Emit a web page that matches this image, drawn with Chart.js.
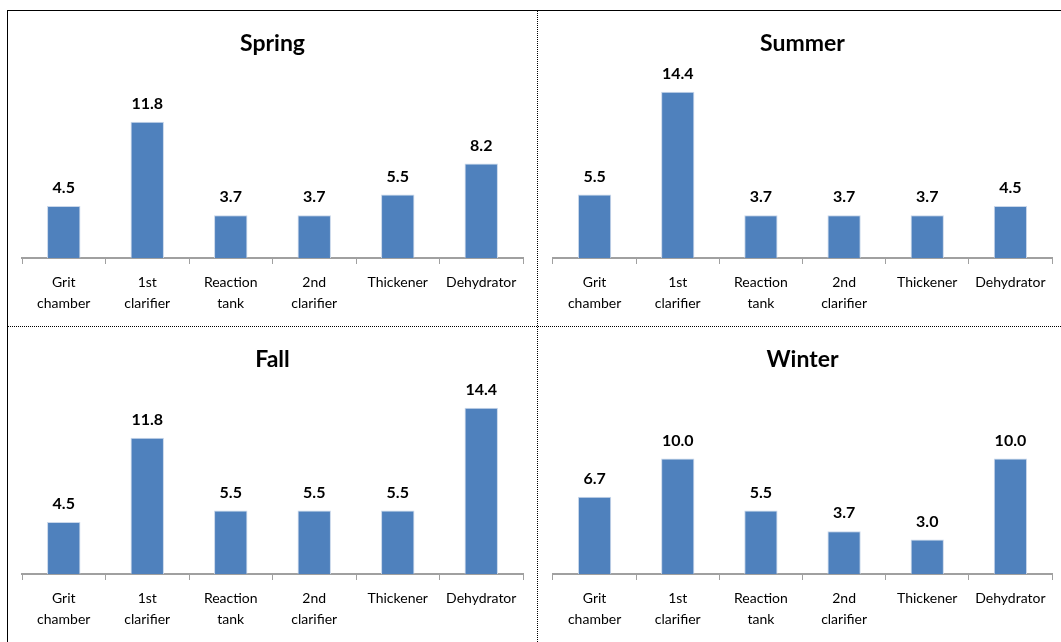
<!DOCTYPE html>
<html>
<head>
<meta charset="utf-8">
<script src="https://cdn.jsdelivr.net/npm/chart.js@4"></script>
<style>
  html, body { margin: 0; padding: 0; background: #fff; }
  body { width: 1061px; height: 642px; position: relative; overflow: hidden; }
  .frame { position: absolute; left: 7px; top: 10px; width: 1060px; height: 640px;
           border-left: 1px solid #000; border-top: 1px solid #000; }
  .vdot { position: absolute; left: 537px; top: 11px; height: 631px; border-left: 1px dotted #000; }
  .hdot { position: absolute; left: 8px; top: 326px; width: 1053px; border-top: 1px dotted #000; }
  .panel { position: absolute; }
</style>
</head>
<body>
<div class="frame"></div>
<div class="vdot"></div>
<div class="hdot"></div>
<div class="panel" style="left:8px;top:11px;width:529px;height:315px"><canvas id="spring"></canvas></div>
<div class="panel" style="left:538px;top:11px;width:523px;height:315px"><canvas id="summer"></canvas></div>
<div class="panel" style="left:8px;top:327px;width:529px;height:315px"><canvas id="fall"></canvas></div>
<div class="panel" style="left:538px;top:327px;width:523px;height:315px"><canvas id="winter"></canvas></div>
<script>
// Categories (process units)
const categories = [
  ['Grit', 'chamber'],
  ['1st', 'clarifier'],
  ['Reaction', 'tank'],
  ['2nd', 'clarifier'],
  'Thickener',
  'Dehydrator'
];

// Values per season
const springValues = [4.5, 11.8, 3.7, 3.7, 5.5, 8.2];
const summerValues = [5.5, 14.4, 3.7, 3.7, 3.7, 4.5];
const fallValues = [4.5, 11.8, 5.5, 5.5, 5.5, 14.4];
const winterValues = [6.7, 10.0, 5.5, 3.7, 3.0, 10.0];

const FONT = "'Liberation Sans Narrow', 'Lato', sans-serif";

// draws the value above each bar
const valueLabels = {
  id: 'valueLabels',
  afterDatasetsDraw(chart) {
    const ctx = chart.ctx;
    const meta = chart.getDatasetMeta(0);
    ctx.save();
    ctx.font = 'bold 16px ' + FONT;
    ctx.fillStyle = '#000';
    ctx.textAlign = 'center';
    ctx.textBaseline = 'bottom';
    meta.data.forEach((bar, i) => {
      const v = chart.data.datasets[0].data[i];
      ctx.fillText(v.toFixed(1), bar.x, bar.y - 10);
    });
    ctx.restore();
  }
};

function makeChart(id, title, values, padLeft, padRight) {
  new Chart(document.getElementById(id), {
    type: 'bar',
    data: {
      labels: categories,
      datasets: [{
        data: values,
        backgroundColor: '#4F81BD',
        borderColor: '#c9d7ea',
        borderWidth: 1,
        borderSkipped: 'bottom',
        categoryPercentage: 1.0,
        barPercentage: 0.4
      }]
    },
    options: {
      responsive: true,
      maintainAspectRatio: false,
      animation: false,
      layout: { padding: { left: padLeft, right: padRight, top: 0, bottom: 0 } },
      plugins: {
        legend: { display: false },
        tooltip: { enabled: false },
        title: {
          display: true,
          text: title,
          color: '#000',
          font: { family: FONT, size: 23, weight: 'bold', lineHeight: 1.2 },
          padding: { top: 19, bottom: 10 }
        }
      },
      scales: {
        x: {
          afterFit: s => { s.height = 68; },
          border: { display: true, color: '#a0a0a0', width: 2 },
          grid: { drawOnChartArea: false, drawTicks: true, tickLength: 6, color: '#a0a0a0', offset: true },
          ticks: {
            color: '#000',
            padding: 8,
            maxRotation: 0,
            autoSkip: false,
            font: { family: FONT, size: 14, lineHeight: 1.5 }
          }
        },
        y: {
          display: false,
          min: 0,
          max: 16.5
        }
      }
    },
    plugins: [valueLabels]
  });
}

makeChart('spring', 'Spring', springValues, 14, 14);
makeChart('summer', 'Summer', summerValues, 15, 9);
makeChart('fall', 'Fall', fallValues, 14, 14);
makeChart('winter', 'Winter', winterValues, 15, 9);
</script>
</body>
</html>
